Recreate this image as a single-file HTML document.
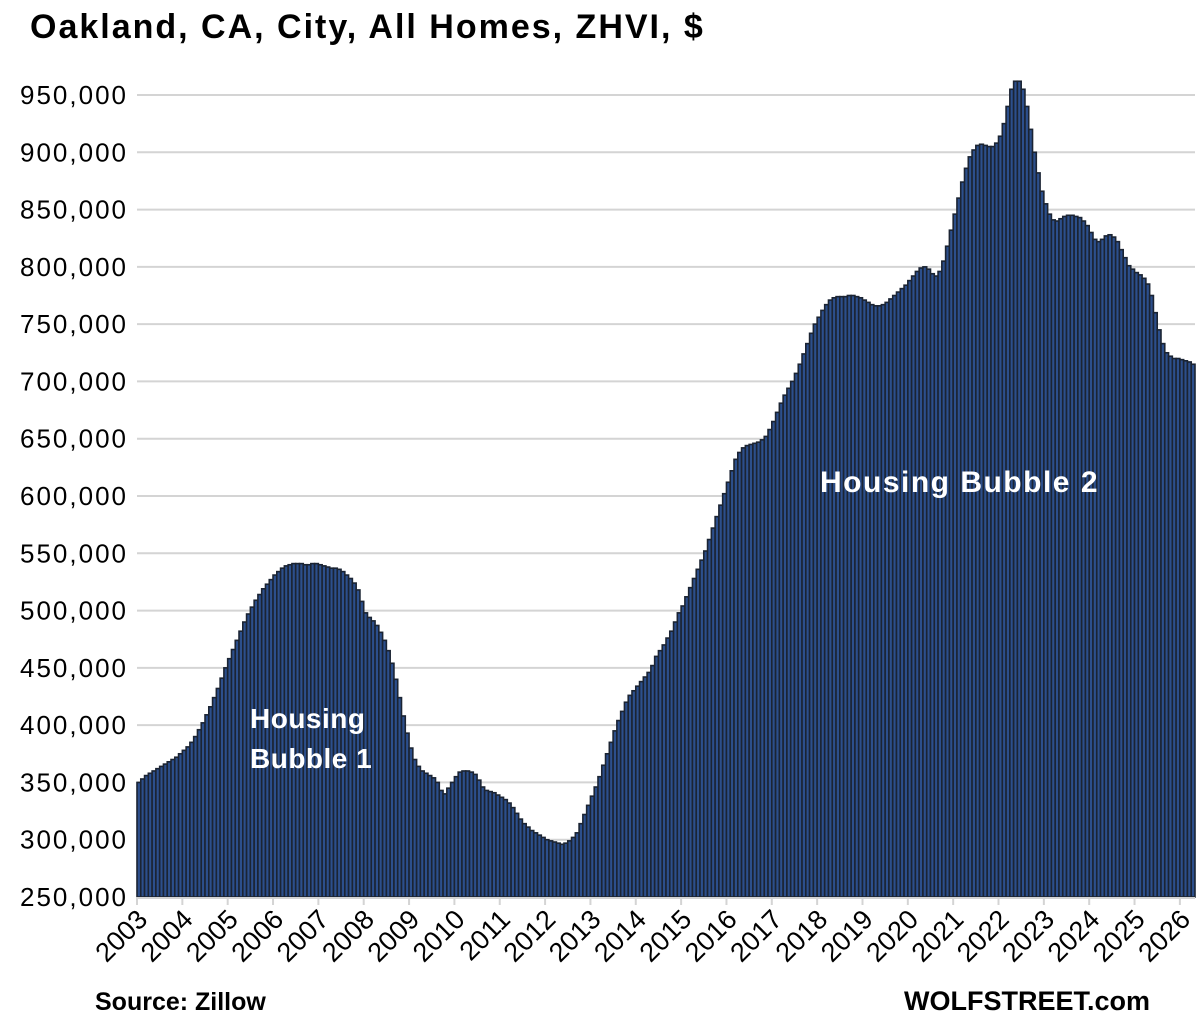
<!DOCTYPE html>
<html><head><meta charset="utf-8"><style>
body{margin:0;background:#fff;}
svg{display:block;font-family:"Liberation Sans",Calibri,sans-serif;}
</style></head><body>
<svg id="chart" width="1200" height="1024" viewBox="0 0 1200 1024">
<text x="30" y="38" font-size="34" font-weight="bold" letter-spacing="2" fill="#000">Oakland, CA, City, All Homes, ZHVI, $</text>
<g id="grid"></g><g id="bars"></g><g id="axes"></g>
<text x="250" y="728" font-size="28" font-weight="bold" letter-spacing="0.5" fill="#fff"><tspan x="250">Housing</tspan><tspan x="250" dy="40">Bubble 1</tspan></text>
<text x="820" y="492" font-size="30" font-weight="bold" letter-spacing="1.5" fill="#fff">Housing Bubble 2</text>
<text x="95" y="1010" font-size="25" font-weight="bold" fill="#000">Source: Zillow</text>
<text x="1150" y="1010" font-size="27" font-weight="bold" fill="#000" text-anchor="end">WOLFSTREET.com</text>
</svg>
<script>
const yTicks=[250000,300000,350000,400000,450000,500000,550000,600000,650000,700000,750000,800000,850000,900000,950000];
const yearLabels=["2003","2004","2005","2006","2007","2008","2009","2010","2011","2012","2013","2014","2015","2016","2017","2018","2019","2020","2021","2022","2023","2024","2025","2026"];
const values=[
350,353,356,358,360,362,364,366,368,370,372,375,
378,381,385,390,396,402,409,416,424,432,441,450,
458,466,474,482,490,497,503,509,514,519,523,527,
531,534,537,539,540,541,541,541,540,540,541,541,
540,539,538,537,537,536,534,531,528,524,518,508,
498,494,491,487,481,474,465,454,440,424,408,393,
380,370,364,360,358,356,354,350,343,340,345,350,
355,359,360,360,359,357,352,346,343,342,341,339,
337,335,332,328,323,318,314,311,308,306,304,302,
300,299,298,297,296,297,299,302,306,314,322,330,
338,346,355,365,375,385,395,404,412,420,426,430,
434,438,442,446,452,460,465,470,476,482,490,498,
504,512,520,528,536,544,552,562,572,582,592,602,
612,622,632,638,642,644,645,646,647,649,652,658,
665,673,681,688,694,700,707,715,724,733,742,750,
756,762,767,771,773,774,774,774,775,775,774,773,
771,769,767,766,766,767,769,772,775,778,781,784,
788,792,796,799,800,798,794,792,796,805,818,832,
846,860,874,886,896,902,906,907,906,905,905,908,
914,925,940,955,962,962,955,940,920,900,882,866,
855,846,841,840,842,844,845,845,844,843,840,836,
830,824,822,824,827,828,826,822,815,808,801,798,
795,793,790,785,775,760,745,733,725,722,720,720,
719,718,717,715];

const NS="http://www.w3.org/2000/svg";
const X0=137,X1=1195,Y0=897,Y1=95,VMIN=250000,VMAX=950000;
const bw=(X1-X0)/values.length;
function yScale(v){return Y0-(v-VMIN)/(VMAX-VMIN)*(Y0-Y1);}
function xScale(i){return X0+i*bw;}
function mk(tag,attrs,parent){const e=document.createElementNS(NS,tag);for(const k in attrs)e.setAttribute(k,attrs[k]);parent.appendChild(e);return e;}
const grid=document.getElementById('grid'),bars=document.getElementById('bars'),axes=document.getElementById('axes');
yTicks.forEach(t=>{
  const y=yScale(t);
  if(t>VMIN){const l=mk('line',{x1:X0,x2:X1,y1:y,y2:y,stroke:'#d4d4d4','stroke-width':2},grid);
  
  }
  const tx=mk('text',{x:128,y:y+9,'font-size':26,'letter-spacing':2,'text-anchor':'end',fill:'#000'},axes);
  tx.textContent=t.toLocaleString('en-US');
  
  
});
values.forEach((v,i)=>{
  const y=yScale(v*1000);
  const r=mk('rect',{x:xScale(i),y:y,width:bw,height:Y0-y,fill:'#2c4f8c',stroke:'#1b2433','stroke-width':1.6},bars);
  
  
});
const ax=mk('line',{x1:X0,x2:X1,y1:Y0+1,y2:Y0+1,stroke:'#d4d4d4','stroke-width':2},axes);


yearLabels.forEach((lab,k)=>{
  const x=xScale(k*12);
  const tk=mk('line',{x1:x,x2:x,y1:Y0,y2:Y0+8,stroke:'#d4d4d4','stroke-width':2},axes);
  
  
  const t=mk('text',{x:x+12,y:Y0+24,'font-size':27,'text-anchor':'end',fill:'#000',transform:`rotate(-45 ${x+12} ${Y0+24})`},axes);
  t.textContent=lab;
  
  
});
</script>
</body></html>
